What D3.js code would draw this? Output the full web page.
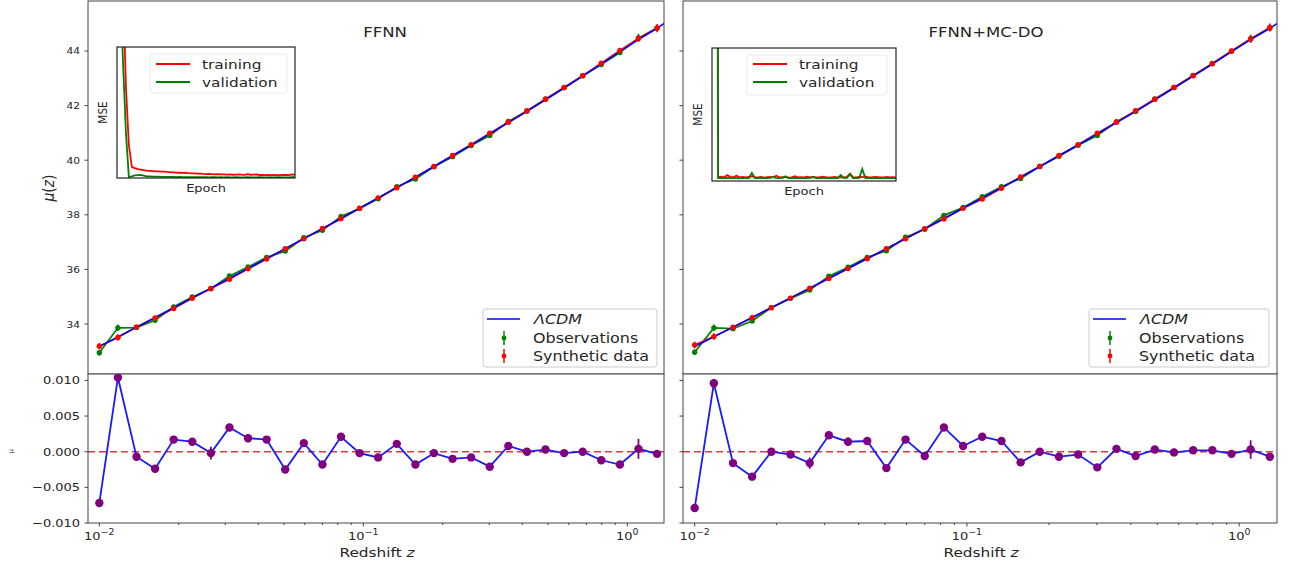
<!DOCTYPE html>
<html>
<head>
<meta charset="utf-8">
<script src="https://cdn.jsdelivr.net/npm/d3@7"></script>
<style>
  body { margin: 0; background: #fff; }
  svg { font-family: "DejaVu Sans", sans-serif; }
</style>
</head>
<body>
<svg id="chart" width="1296" height="567"></svg>
<script>
// redshifts of the binned points (log spaced in the figure)
const redshift = [0.0100, 0.01176, 0.01383, 0.01626, 0.01913, 0.02249, 0.02646, 0.03111, 0.03659, 0.04303,
  0.05060, 0.05951, 0.0700, 0.0823, 0.0968, 0.1138, 0.1339, 0.1575, 0.1852, 0.2178,
  0.2561, 0.3012, 0.3542, 0.4166, 0.4899, 0.5762, 0.6776, 0.7969, 0.9372, 1.102, 1.296];

// LCDM curve
const lcdmZ = redshift.concat([1.40]);
const lcdmMu = [33.175, 33.530, 33.886, 34.242, 34.599, 34.957, 35.315, 35.674, 36.035, 36.397,
  36.761, 37.127, 37.495, 37.865, 38.239, 38.615, 38.996, 39.380, 39.768, 40.161,
  40.559, 40.965, 41.374, 41.789, 42.210, 42.645, 43.080, 43.520, 43.975, 44.415, 44.830, 45.050];

// FFNN panel
const synthMuL = [33.19, 33.51, 33.89, 34.22, 34.57, 34.94, 35.30, 35.64, 36.02, 36.38,
  36.76, 37.12, 37.50, 37.86, 38.24, 38.62, 38.99, 39.38, 39.77, 40.17,
  40.57, 40.99, 41.39, 41.80, 42.23, 42.66, 43.09, 43.55, 44.02, 44.46, 44.84];
const obsMuL = [32.95, 33.86, 33.87, 34.14, 34.63, 34.99, 35.29, 35.76, 36.09, 36.44,
  36.67, 37.16, 37.43, 37.94, 38.23, 38.59, 39.03, 39.31, 39.76, 40.13,
  40.54, 40.90, 41.42, 41.80, 42.24, 42.65, 43.09, 43.50, 43.94, 44.48, 44.83];
const residL = [-0.0072, 0.0104, -0.0007, -0.0024, 0.0017, 0.0014, -0.0002, 0.0034, 0.0019, 0.0017,
  -0.0025, 0.0012, -0.0018, 0.0021, -0.0002, -0.0008, 0.0011, -0.0018, -0.0002, -0.0010,
  -0.0008, -0.0021, 0.0008, 0.0000, 0.0003, -0.0002, 0.0000, -0.0012, -0.0018, 0.0004, -0.0003];
const residErrL = [0.0003, 0.0005, 0.0003, 0.0003, 0.0002, 0.0002, 0.0009, 0.0002, 0.0006, 0.0002,
  0.0002, 0.0002, 0.0003, 0.0002, 0.0002, 0.0002, 0.0002, 0.0004, 0.0002, 0.0002,
  0.0002, 0.0004, 0.0002, 0.0004, 0.0002, 0.0004, 0.0003, 0.0002, 0.0002, 0.0014, 0.0003];

// FFNN+MC-DO panel
const synthMuR = [33.23, 33.54, 33.88, 34.23, 34.60, 34.95, 35.31, 35.67, 36.03, 36.39,
  36.76, 37.12, 37.49, 37.85, 38.24, 38.58, 38.97, 39.39, 39.77, 40.17,
  40.57, 40.99, 41.39, 41.81, 42.23, 42.66, 43.09, 43.53, 44.00, 44.44, 44.86];
const obsMuR = [32.97, 33.86, 33.83, 34.11, 34.60, 34.94, 35.25, 35.75, 36.08, 36.44,
  36.68, 37.18, 37.47, 37.98, 38.27, 38.66, 39.03, 39.33, 39.77, 40.14,
  40.55, 40.90, 41.41, 41.78, 42.24, 42.66, 43.10, 43.54, 43.99, 44.45, 44.83];
const residR = [-0.0079, 0.0096, -0.0016, -0.0035, 0.0000, -0.0004, -0.0016, 0.0023, 0.0014, 0.0015,
  -0.0023, 0.0017, -0.0006, 0.0034, 0.0008, 0.0021, 0.0015, -0.0015, 0.0000, -0.0007,
  -0.0004, -0.0022, 0.0004, -0.0006, 0.0003, -0.0001, 0.0002, 0.0002, -0.0003, 0.0003, -0.0007];
const residErrR = [0.0003, 0.0006, 0.0003, 0.0002, 0.0002, 0.0002, 0.0008, 0.0002, 0.0006, 0.0002,
  0.0002, 0.0002, 0.0002, 0.0002, 0.0002, 0.0002, 0.0002, 0.0004, 0.0002, 0.0002,
  0.0002, 0.0004, 0.0002, 0.0002, 0.0002, 0.0005, 0.0002, 0.0002, 0.0002, 0.0013, 0.0002];

// error bars on mu (same for both panels)
const synthErr = [0.12, 0.12, 0.05, 0.05, 0.05, 0.05, 0.05, 0.05, 0.05, 0.05,
  0.05, 0.05, 0.05, 0.05, 0.05, 0.05, 0.05, 0.05, 0.05, 0.05,
  0.05, 0.05, 0.05, 0.05, 0.05, 0.05, 0.05, 0.05, 0.05, 0.12, 0.15];
const obsErr = [0.10, 0.12, 0.05, 0.05, 0.05, 0.05, 0.05, 0.05, 0.05, 0.05,
  0.05, 0.05, 0.05, 0.05, 0.05, 0.05, 0.05, 0.05, 0.05, 0.05,
  0.05, 0.05, 0.05, 0.05, 0.05, 0.05, 0.05, 0.05, 0.05, 0.15, 0.08];

// inset loss curves (arbitrary MSE units, one value per epoch)
const trainLossL = [6.0, 3.0, 1.5, 0.7, 0.25, 0.085, 0.075, 0.068, 0.064, 0.060,
  0.057, 0.055, 0.053, 0.051, 0.050, 0.048, 0.049, 0.046, 0.044, 0.043,
  0.041, 0.040, 0.039, 0.040, 0.037, 0.036, 0.035, 0.034, 0.033, 0.031,
  0.030, 0.031, 0.029, 0.028, 0.029, 0.027, 0.028, 0.026, 0.027, 0.025,
  0.026, 0.027, 0.025, 0.024, 0.029, 0.025, 0.026, 0.028, 0.023, 0.024,
  0.022, 0.023, 0.021, 0.024, 0.022, 0.021, 0.023, 0.024, 0.022, 0.027, 0.025];
const valLossL = [3.0, 1.6, 0.9, 0.35, 0.006, 0.012, 0.020, 0.022, 0.024, 0.018,
  0.013, 0.012, 0.011, 0.010, 0.010, 0.009, 0.009, 0.008, 0.008, 0.008,
  0.007, 0.008, 0.007, 0.007, 0.006, 0.007, 0.006, 0.006, 0.007, 0.006,
  0.006, 0.005, 0.006, 0.007, 0.005, 0.006, 0.005, 0.006, 0.005, 0.005,
  0.006, 0.005, 0.004, 0.005, 0.007, 0.005, 0.004, 0.005, 0.006, 0.004,
  0.005, 0.004, 0.005, 0.004, 0.006, 0.004, 0.005, 0.004, 0.005, 0.007, 0.006];
const trainLossR = [40, 15, 0.030, 0.032, 0.028, 0.045, 0.030, 0.029, 0.040, 0.028,
  0.030, 0.027, 0.031, 0.035, 0.029, 0.028, 0.030, 0.026, 0.029, 0.031,
  0.028, 0.040, 0.027, 0.029, 0.030, 0.026, 0.028, 0.036, 0.027, 0.029,
  0.028, 0.032, 0.027, 0.030, 0.028, 0.027, 0.033, 0.029, 0.026, 0.028,
  0.030, 0.027, 0.029, 0.028, 0.031, 0.055, 0.028, 0.027, 0.030, 0.029,
  0.035, 0.028, 0.027, 0.030, 0.029, 0.027, 0.028, 0.031, 0.027, 0.029, 0.028];
const valLossR = [30, 8, 0.022, 0.024, 0.021, 0.023, 0.022, 0.024, 0.021, 0.023,
  0.022, 0.024, 0.021, 0.060, 0.022, 0.023, 0.021, 0.024, 0.022, 0.023,
  0.030, 0.022, 0.021, 0.023, 0.035, 0.022, 0.021, 0.024, 0.022, 0.023,
  0.021, 0.022, 0.024, 0.032, 0.021, 0.023, 0.022, 0.021, 0.024, 0.022,
  0.023, 0.021, 0.045, 0.022, 0.024, 0.050, 0.022, 0.021, 0.023, 0.090,
  0.022, 0.024, 0.021, 0.023, 0.022, 0.021, 0.024, 0.022, 0.023, 0.021, 0.022];

const muTicks = [34, 36, 38, 40, 42, 44];
const resTicks = [-0.010, -0.005, 0.000, 0.005, 0.010];
const zMajor = [0.01, 0.1, 1];
const zMajorExp = ["\u22122", "\u22121", "0"];
const zMinor = [0.02, 0.03, 0.04, 0.05, 0.06, 0.07, 0.08, 0.09, 0.2, 0.3, 0.4, 0.5, 0.6, 0.7, 0.8, 0.9];

const zDomain = [0.00906, 1.377];
const muDomain = [32.17, 45.83];
const resDomain = [-0.010, 0.0109];

const svg = d3.select("#chart");
const SX = 1.18;      // the source picture is stretched sideways
const ink = "#262626";
const TOP = 1, MID = 374, BOT = 523;

function txt(g, x, y, s, size, anchor) {
  return g.append("text")
    .attr("transform", `translate(${x},${y}) scale(${SX},1)`)
    .attr("font-size", size)
    .attr("text-anchor", anchor || "start")
    .attr("fill", ink)
    .text(s);
}

function vtxt(g, x, y, size) {
  return g.append("text")
    .attr("transform", `translate(${x},${y}) scale(${SX},1) rotate(-90)`)
    .attr("font-size", size).attr("text-anchor", "middle").attr("fill", ink);
}

function errMarks(g, xs, ys, errs, yScale, color, r, w) {
  g.selectAll(null).data(xs).enter().append("line")
    .attr("x1", d => d).attr("x2", d => d)
    .attr("y1", (d, i) => yScale(ys[i] - errs[i]))
    .attr("y2", (d, i) => yScale(ys[i] + errs[i]))
    .attr("stroke", color).attr("stroke-width", w);
  g.selectAll(null).data(xs).enter().append("circle")
    .attr("cx", d => d).attr("cy", (d, i) => yScale(ys[i]))
    .attr("r", r).attr("fill", color);
}

function drawPanel(p) {
  const g = svg.append("g");
  const x = d3.scaleLog().domain(zDomain).range([p.left, p.right]);
  const y = d3.scaleLinear().domain(muDomain).range([MID, TOP]);
  const yr = d3.scaleLinear().domain(resDomain).range([BOT, MID]);

  const defs = svg.append("defs");
  defs.append("clipPath").attr("id", p.id + "top").append("rect")
    .attr("x", p.left).attr("y", TOP).attr("width", p.right - p.left).attr("height", MID - TOP);
  defs.append("clipPath").attr("id", p.id + "bot").append("rect")
    .attr("x", p.left).attr("y", MID).attr("width", p.right - p.left).attr("height", BOT - MID);

  // ---- top panel
  const top = g.append("g").attr("clip-path", `url(#${p.id}top)`);
  const xs = redshift.map(z => x(z));
  const line = d3.line();
  top.append("path").attr("d", line(p.obs.map((v, i) => [xs[i], y(v)])))
    .attr("fill", "none").attr("stroke", "#008000").attr("stroke-width", 1.7);
  top.append("path").attr("d", line(p.synth.map((v, i) => [xs[i], y(v)])))
    .attr("fill", "none").attr("stroke", "#ff0000").attr("stroke-width", 1.7);
  top.append("path").attr("d", line(lcdmMu.map((v, i) => [x(lcdmZ[i]), y(v)])))
    .attr("fill", "none").attr("stroke", "#0000ff").attr("stroke-width", 1.6);
  errMarks(top, xs, p.obs, obsErr, y, "#008000", 2.7, 1.6);
  errMarks(top, xs, p.synth, synthErr, y, "#ff0000", 2.7, 1.6);

  g.append("rect").attr("x", p.left).attr("y", TOP).attr("width", p.right - p.left)
    .attr("height", MID - TOP).attr("fill", "none").attr("stroke", "#444").attr("stroke-width", 1);

  g.selectAll(null).data(muTicks).enter().append("line")
    .attr("x1", p.left - 3.5).attr("x2", p.left)
    .attr("y1", d => y(d)).attr("y2", d => y(d)).attr("stroke", "#444");
  if (p.labels) {
    muTicks.forEach(t => txt(g, p.left - 8, y(t) + 3.5, String(t), 9, "end"));
    const yl = vtxt(g, 54, 188, 14);
    yl.append("tspan").attr("font-style", "italic").text("\u03bc");
    yl.append("tspan").text("(");
    yl.append("tspan").attr("font-style", "italic").text("z");
    yl.append("tspan").text(")");
  }
  txt(g, p.titleX, 37, p.title, 14, "middle");

  // ---- inset
  const ins = p.inset;
  const ix = d3.scaleLinear().domain([0, p.train.length - 1]).range([ins.x0, ins.x1]);
  const iy = d3.scaleLinear().domain([0, 1]).range([ins.y1, ins.y0]);
  defs.append("clipPath").attr("id", p.id + "ins").append("rect")
    .attr("x", ins.x0).attr("y", ins.y0).attr("width", ins.x1 - ins.x0).attr("height", ins.y1 - ins.y0);
  g.append("rect").attr("x", ins.x0).attr("y", ins.y0).attr("width", ins.x1 - ins.x0)
    .attr("height", ins.y1 - ins.y0).attr("fill", "#fff");
  const ig = g.append("g").attr("clip-path", `url(#${p.id}ins)`);
  const il = d3.line().x((d, i) => ix(i)).y(d => iy(d));
  ig.append("path").attr("d", il(p.train)).attr("fill", "none").attr("stroke", "#ff0000").attr("stroke-width", 1.8);
  ig.append("path").attr("d", il(p.val)).attr("fill", "none").attr("stroke", "#008000").attr("stroke-width", 1.8);
  g.append("rect").attr("x", ins.x0).attr("y", ins.y0).attr("width", ins.x1 - ins.x0)
    .attr("height", ins.y1 - ins.y0).attr("fill", "none").attr("stroke", "#222").attr("stroke-width", 1.2);
  vtxt(g, ins.x0 - 10, (ins.y0 + ins.y1) / 2, 10.5).text("MSE");
  txt(g, (ins.x0 + ins.x1) / 2, ins.y1 + 14, "Epoch", 11, "middle");
  const lg = ins.leg;
  g.append("rect").attr("x", lg.x0).attr("y", lg.y0).attr("width", lg.x1 - lg.x0).attr("height", lg.y1 - lg.y0)
    .attr("rx", 3).attr("fill", "#fff").attr("fill-opacity", 0.8).attr("stroke", "#eaeaea");
  [["training", "#ff0000", 64], ["validation", "#008000", 82]].forEach(([name, col, yy]) => {
    g.append("line").attr("x1", lg.x0 + 6).attr("x2", lg.x0 + 40).attr("y1", yy).attr("y2", yy)
      .attr("stroke", col).attr("stroke-width", 1.8);
    txt(g, lg.x0 + 52, yy + 4.5, name, 13);
  });

  // ---- main legend
  const L = p.legend;
  g.append("rect").attr("x", L.x0).attr("y", 309).attr("width", L.x1 - L.x0).attr("height", 58)
    .attr("rx", 3).attr("fill", "#fff").attr("fill-opacity", 0.8).attr("stroke", "#cccccc");
  g.append("line").attr("x1", L.x0 + 4).attr("x2", L.x0 + 37).attr("y1", 319).attr("y2", 319)
    .attr("stroke", "#0000ff").attr("stroke-width", 1.5);
  txt(g, L.x0 + 51, 324, "\u039bCDM", 13.5).attr("font-style", "italic");
  [["Observations", "#008000", 338], ["Synthetic data", "#ff0000", 356]].forEach(([name, col, yy]) => {
    g.append("line").attr("x1", L.x0 + 21).attr("x2", L.x0 + 21).attr("y1", yy - 7).attr("y2", yy + 7)
      .attr("stroke", col).attr("stroke-width", 1.5);
    g.append("circle").attr("cx", L.x0 + 21).attr("cy", yy).attr("r", 2.4).attr("fill", col);
    txt(g, L.x0 + 50, yy + 5, name, 13.5);
  });

  // ---- residual panel
  g.append("rect").attr("x", p.left).attr("y", MID).attr("width", p.right - p.left)
    .attr("height", BOT - MID).attr("fill", "#fff");
  const bot = g.append("g").attr("clip-path", `url(#${p.id}bot)`);
  bot.append("line").attr("x1", p.left).attr("x2", p.right).attr("y1", yr(0)).attr("y2", yr(0))
    .attr("stroke", "#d63c3c").attr("stroke-width", 1.4).attr("stroke-dasharray", "7,4");
  bot.append("path").attr("d", line(p.res.map((v, i) => [xs[i], yr(v)])))
    .attr("fill", "none").attr("stroke", "#1a1aff").attr("stroke-width", 1.8);
  errMarks(bot, xs, p.res, p.resErr, yr, "#800080", 4.2, 1.8);
  g.append("rect").attr("x", p.left).attr("y", MID).attr("width", p.right - p.left)
    .attr("height", BOT - MID).attr("fill", "none").attr("stroke", "#444").attr("stroke-width", 1);

  g.selectAll(null).data(resTicks).enter().append("line")
    .attr("x1", p.left - 3.5).attr("x2", p.left)
    .attr("y1", d => yr(d)).attr("y2", d => yr(d)).attr("stroke", "#444");
  if (p.labels) {
    const fmt = d3.format(".3f");
    resTicks.forEach(t => txt(g, p.left - 8, yr(t) + 4, fmt(t).replace("-", "\u2212"), 11, "end"));
    vtxt(g, 13, 451, 6).text("\u03bc");
  }
  g.selectAll(null).data(zMajor).enter().append("line")
    .attr("x1", d => x(d)).attr("x2", d => x(d)).attr("y1", BOT).attr("y2", BOT + 3.5).attr("stroke", "#444");
  g.selectAll(null).data(zMinor).enter().append("line")
    .attr("x1", d => x(d)).attr("x2", d => x(d)).attr("y1", BOT).attr("y2", BOT + 2).attr("stroke", "#444");
  zMajor.forEach((z, i) => {
    const t = txt(g, x(z), 540, "", 11, "middle");
    t.append("tspan").text("10");
    t.append("tspan").attr("dy", -5).attr("font-size", 8).text(zMajorExp[i]);
  });
  const xl = txt(g, (p.left + p.right) / 2 + 1, 557, "Redshift ", 13, "middle");
  xl.append("tspan").attr("font-style", "italic").text("z");
}

drawPanel({
  id: "l", left: 88, right: 664, labels: true, title: "FFNN", titleX: 385,
  synth: synthMuL, obs: obsMuL, res: residL, resErr: residErrL,
  train: trainLossL, val: valLossL,
  inset: { x0: 117, x1: 295, y0: 47, y1: 178, leg: { x0: 150, x1: 287, y0: 54, y1: 93 } },
  legend: { x0: 483, x1: 657 }
});
drawPanel({
  id: "r", left: 683, right: 1277, labels: false, title: "FFNN+MC-DO", titleX: 986,
  synth: synthMuR, obs: obsMuR, res: residR, resErr: residErrR,
  train: trainLossR, val: valLossR,
  inset: { x0: 712, x1: 896, y0: 48, y1: 181, leg: { x0: 747, x1: 887, y0: 55, y1: 95 } },
  legend: { x0: 1089, x1: 1269 }
});
</script>
</body>
</html>
